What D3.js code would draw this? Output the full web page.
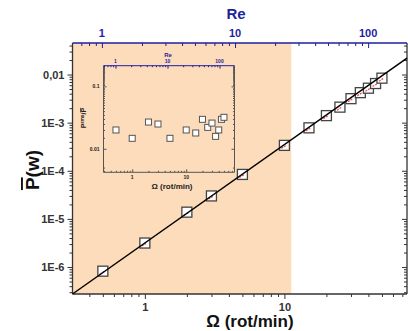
<!DOCTYPE html>
<html>
<head>
  <meta charset="utf-8">
  <title>P vs Omega</title>
  <script src="https://d3js.org/d3.v7.min.js"></script>
  <style>
    body { margin: 0; background: white; }
    text { font-family: "Liberation Sans", Arial, sans-serif; font-weight: bold; }
  </style>
</head>
<body>
<div id="output"></div>

<script type="text/javascript">

  // data
  var omega = [0.5, 1, 2, 3, 5, 10, 15, 20, 25, 30, 35, 40, 45, 50];
  var power = [8.2e-7, 3.15e-6, 1.38e-5, 3.0e-5, 8.4e-5, 3.37e-4, 7.8e-4, 1.4e-3, 2.1e-3, 3.15e-3, 4.2e-3, 5.2e-3, 6.5e-3, 8.4e-3];
  var ratio = [0.020, 0.0147, 0.0268, 0.0249, 0.0147, 0.020, 0.0179, 0.0296, 0.022, 0.0258, 0.0158, 0.020, 0.0296, 0.0319];

  // power law fit, end points
  var fitOmega = [0.303, 75.6];
  var fitPower = [2.75e-7, 2.2e-2];

  var shadeOmega = [0.303, 11.2];

  var yTickVals = [1e-6, 1e-5, 1e-4, 1e-3, 1e-2];
  var yTickLabels = ["1E-6", "1E-5", "1E-4", "1E-3", "0,01"];
  var xTickVals = [1, 10];
  var reTickVals = [1, 10, 100];
  var insetYTickVals = [0.01, 0.1];
  var insetYTickLabels = ["0.01", "0.1"];

  var w = 408, h = 331;
  var blue = "#1f1f9e";
  var axisCol = "#333";

  var svg = d3.select("#output").append("svg")
          .attr("width", w)
          .attr("height", h);

  // main chart area
  var L = 72.5, R = 407, T = 43, B = 294;

  var x = d3.scaleLog().domain([0.303, 75.6]).range([L, R]);
  var re = d3.scaleLog().domain([0.601, 196]).range([L, R]);
  var y = d3.scaleLog().domain([2.75e-7, 0.0452]).range([B, T]);

  function minors(scale, majors) {
    var d = scale.domain();
    return scale.ticks(40).filter(function(v){
      return v >= d[0] && v <= d[1] && majors.indexOf(v) < 0;
    });
  }
  var yMajorAll = y.ticks(40).filter(function(v){ return Math.abs(Math.log10(v) - Math.round(Math.log10(v))) < 1e-9; });
  var xMajorAll = [1, 10];
  var reMajorAll = [1, 10, 100];

  svg.append("rect")
          .attr("x", x(shadeOmega[0]))
          .attr("y", T)
          .attr("width", x(shadeOmega[1]) - x(shadeOmega[0]))
          .attr("height", B - T)
          .attr("fill", "#fddcbb");

  function styleAxis(g, col, fs) {
    g.select(".domain").remove();
    g.selectAll("line").attr("stroke", col);
    g.selectAll("text").attr("fill", col).attr("font-size", fs).attr("font-weight", "bold");
  }

  // left axis
  var gl = svg.append("g").attr("transform", "translate(" + L + ",0)")
          .call(d3.axisLeft(y).tickValues(yTickVals).tickSize(5).tickPadding(3)
                  .tickFormat(function(d, i){ return yTickLabels[i]; }));
  styleAxis(gl, axisCol, 11);
  var glm = svg.append("g").attr("transform", "translate(" + L + ",0)")
          .call(d3.axisLeft(y).tickValues(minors(y, yMajorAll)).tickSize(3).tickFormat(""));
  styleAxis(glm, axisCol, 11);

  // right axis (inner ticks)
  var gr = svg.append("g").attr("transform", "translate(" + R + ",0)")
          .call(d3.axisLeft(y).tickValues(yTickVals).tickSize(5).tickFormat(""));
  styleAxis(gr, axisCol, 11);
  var grm = svg.append("g").attr("transform", "translate(" + R + ",0)")
          .call(d3.axisLeft(y).tickValues(minors(y, yMajorAll)).tickSize(3).tickFormat(""));
  styleAxis(grm, axisCol, 11);

  // bottom axis
  var gb = svg.append("g").attr("transform", "translate(0," + B + ")")
          .call(d3.axisBottom(x).tickValues(xTickVals).tickSize(5).tickPadding(4).tickFormat(d3.format("d")));
  styleAxis(gb, axisCol, 11);
  var gbm = svg.append("g").attr("transform", "translate(0," + B + ")")
          .call(d3.axisBottom(x).tickValues(minors(x, xMajorAll)).tickSize(3).tickFormat(""));
  styleAxis(gbm, axisCol, 11);

  // top Re axis (inner ticks)
  var gt = svg.append("g").attr("transform", "translate(0," + T + ")")
          .call(d3.axisBottom(re).tickValues(reTickVals).tickSize(5).tickFormat(""));
  styleAxis(gt, blue, 11);
  var gtm = svg.append("g").attr("transform", "translate(0," + T + ")")
          .call(d3.axisBottom(re).tickValues(minors(re, reMajorAll)).tickSize(3).tickFormat(""));
  styleAxis(gtm, blue, 11);
  svg.selectAll(".reLab").data(reTickVals).enter().append("text")
          .attr("x", function(d){ return re(d); })
          .attr("y", 37)
          .attr("text-anchor", "middle")
          .attr("font-size", 11)
          .attr("fill", blue)
          .text(function(d){ return d; });

  // frame lines
  svg.append("line").attr("x1", L).attr("x2", L).attr("y1", T).attr("y2", B).attr("stroke", axisCol).attr("stroke-width", 1.3);
  svg.append("line").attr("x1", R).attr("x2", R).attr("y1", T).attr("y2", B).attr("stroke", axisCol).attr("stroke-width", 1.3);
  svg.append("line").attr("x1", L).attr("x2", R).attr("y1", B).attr("y2", B).attr("stroke", axisCol).attr("stroke-width", 1.3);
  svg.append("line").attr("x1", L).attr("x2", R).attr("y1", T).attr("y2", T).attr("stroke", blue).attr("stroke-width", 1.5);

  // titles
  svg.append("text").attr("x", 236).attr("y", 19).attr("text-anchor", "middle")
          .attr("font-size", 15).attr("fill", blue).text("Re");
  svg.append("text").attr("x", 250).attr("y", 327).attr("text-anchor", "middle")
          .attr("font-size", 17).attr("fill", "#111").text("\u03A9 (rot/min)");
  var yt = svg.append("text").attr("transform", "translate(39,170) rotate(-90)")
          .attr("text-anchor", "middle").attr("font-size", 19).attr("fill", "#111");
  yt.append("tspan").attr("text-decoration", "overline").text("P");
  yt.append("tspan").text("(w)");

  // markers
  var pts = omega.map(function(d, i){ return [d, power[i]]; });
  var sq = 10;
  svg.selectAll(".pt").data(pts).enter().append("rect")
          .attr("class", "pt")
          .attr("x", function(d){ return x(d[0]) - sq / 2; })
          .attr("y", function(d){ return y(d[1]) - sq / 2; })
          .attr("width", sq).attr("height", sq)
          .attr("fill", "white")
          .attr("stroke", "#444")
          .attr("stroke-width", 1.3);
  svg.selectAll(".red").data(pts).enter().append("line")
          .attr("x1", function(d){ return x(d[0]) - 3; })
          .attr("x2", function(d){ return x(d[0]) + 2; })
          .attr("y1", function(d){ return y(d[1]) + 3; })
          .attr("y2", function(d){ return y(d[1]); })
          .attr("stroke", "#e84a4a")
          .attr("stroke-width", 1.2)
          .attr("stroke-dasharray", "2,1");

  // fit line
  var fit = fitOmega.map(function(d, i){ return [d, fitPower[i]]; });
  svg.append("path").datum(fit)
          .attr("d", d3.line().x(function(d){ return x(d[0]); }).y(function(d){ return y(d[1]); }))
          .attr("stroke", "#000").attr("stroke-width", 1.5).attr("fill", "none");

  // inset
  var iL = 103.5, iR = 234.5, iT = 65.7, iB = 172.3;
  var xi = d3.scaleLog().domain([0.294, 78.4]).range([iL, iR]);
  var rei = d3.scaleLog().domain([0.588, 194]).range([iL, iR]);
  var yi = d3.scaleLog().domain([0.0042, 0.214]).range([iB, iT]);
  var inset = svg.append("g");
  var yiMaj = [0.01, 0.1];

  var a1 = inset.append("g").attr("transform", "translate(" + iL + ",0)")
          .call(d3.axisRight(yi).tickValues(yiMaj).tickSize(3).tickFormat(""));
  styleAxis(a1, "#555", 5);
  var a1m = inset.append("g").attr("transform", "translate(" + iL + ",0)")
          .call(d3.axisRight(yi).tickValues(minors(yi, yiMaj)).tickSize(1.5).tickFormat(""));
  styleAxis(a1m, "#555", 5);
  var a2 = inset.append("g").attr("transform", "translate(" + iR + ",0)")
          .call(d3.axisLeft(yi).tickValues(yiMaj).tickSize(3).tickFormat(""));
  styleAxis(a2, "#555", 5);
  var a2m = inset.append("g").attr("transform", "translate(" + iR + ",0)")
          .call(d3.axisLeft(yi).tickValues(minors(yi, yiMaj)).tickSize(1.5).tickFormat(""));
  styleAxis(a2m, "#555", 5);
  var a3 = inset.append("g").attr("transform", "translate(0," + iB + ")")
          .call(d3.axisTop(xi).tickValues([1, 10]).tickSize(3).tickFormat(""));
  styleAxis(a3, "#555", 5);
  var a3m = inset.append("g").attr("transform", "translate(0," + iB + ")")
          .call(d3.axisTop(xi).tickValues(minors(xi, [1, 10])).tickSize(1.5).tickFormat(""));
  styleAxis(a3m, "#555", 5);
  var a4 = inset.append("g").attr("transform", "translate(0," + iT + ")")
          .call(d3.axisBottom(rei).tickValues(reTickVals).tickSize(3).tickFormat(""));
  styleAxis(a4, blue, 5);
  var a4m = inset.append("g").attr("transform", "translate(0," + iT + ")")
          .call(d3.axisBottom(rei).tickValues(minors(rei, reMajorAll)).tickSize(1.5).tickFormat(""));
  styleAxis(a4m, blue, 5);

  inset.append("line").attr("x1", iL).attr("x2", iL).attr("y1", iT).attr("y2", iB).attr("stroke", "#555");
  inset.append("line").attr("x1", iR).attr("x2", iR).attr("y1", iT).attr("y2", iB).attr("stroke", "#555");
  inset.append("line").attr("x1", iL).attr("x2", iR).attr("y1", iB).attr("y2", iB).attr("stroke", "#555");
  inset.append("line").attr("x1", iL).attr("x2", iR).attr("y1", iT).attr("y2", iT).attr("stroke", blue);

  inset.selectAll(".iyl").data(insetYTickVals).enter().append("text")
          .attr("x", iL - 4).attr("y", function(d){ return yi(d) + 2; })
          .attr("text-anchor", "end").attr("font-size", 5).attr("fill", "#222")
          .text(function(d, i){ return insetYTickLabels[i]; });
  inset.selectAll(".ixl").data([1, 10]).enter().append("text")
          .attr("x", function(d){ return xi(d); }).attr("y", iB + 7)
          .attr("text-anchor", "middle").attr("font-size", 5).attr("fill", "#222")
          .text(function(d){ return d; });
  inset.selectAll(".irl").data(reTickVals).enter().append("text")
          .attr("x", function(d){ return rei(d); }).attr("y", iT - 3)
          .attr("text-anchor", "middle").attr("font-size", 5).attr("fill", blue)
          .text(function(d){ return d; });
  inset.append("text").attr("x", 168).attr("y", 57).attr("text-anchor", "middle")
          .attr("font-size", 6).attr("fill", blue).text("Re");
  inset.append("text").attr("x", 172).attr("y", 189).attr("text-anchor", "middle")
          .attr("font-size", 8).attr("fill", "#222").text("\u03A9 (rot/min)");
  var iyt = inset.append("text").attr("transform", "translate(86,118) rotate(-90)")
          .attr("text-anchor", "middle").attr("font-size", 7).attr("fill", "#222");
  iyt.append("tspan").text("P");
  iyt.append("tspan").attr("font-size", 5).attr("dy", -2.5).text("rms");
  iyt.append("tspan").attr("dy", 2.5).text("/");
  iyt.append("tspan").attr("text-decoration", "overline").text("P");

  var ipts = omega.map(function(d, i){ return [d, ratio[i]]; });
  inset.selectAll(".ipt").data(ipts).enter().append("rect")
          .attr("x", function(d){ return xi(d[0]) - 3; })
          .attr("y", function(d){ return yi(d[1]) - 3; })
          .attr("width", 6).attr("height", 6)
          .attr("fill", "white")
          .attr("stroke", "#555")
          .attr("stroke-width", 1);

</script>

</body>
</html>
